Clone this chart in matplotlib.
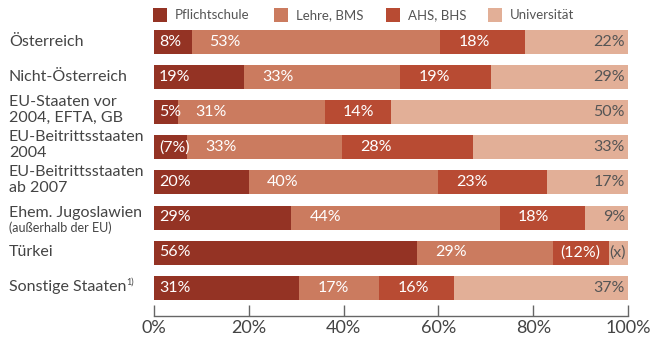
import matplotlib
matplotlib.use("Agg")
import matplotlib.pyplot as plt
from matplotlib.patches import Rectangle
import numpy as np

plt.rcParams['font.family'] = ['Lato', 'DejaVu Sans']

categories = ["Österreich", "Nicht-Österreich", "EU-Staaten vor\n2004, EFTA, GB",
              "EU-Beitrittsstaaten\n2004", "EU-Beitrittsstaaten\nab 2007",
              "Ehem. Jugoslawien", "Türkei", "Sonstige Staaten"]
series = ["Pflichtschule", "Lehre, BMS", "AHS, BHS", "Universität"]
pflicht = [8, 19, 5, 7, 20, 29, 56, 31]
lehre = [53, 33, 31, 33, 40, 44, 29, 17]
ahs = [18, 19, 14, 28, 23, 18, 12, 16]
uni = [22, 29, 50, 33, 17, 9, 4, 37]
label_pflicht = ["8%", "19%", "5%", "(7%)", "20%", "29%", "56%", "31%"]
label_lehre = ["53%", "33%", "31%", "33%", "40%", "44%", "29%", "17%"]
label_ahs = ["18%", "19%", "14%", "28%", "23%", "18%", "(12%)", "16%"]
label_uni = ["22%", "29%", "50%", "33%", "17%", "9%", "(x)", "37%"]
xticks = [0, 20, 40, 60, 80, 100]
xtick_labels = ["0%", "20%", "40%", "60%", "80%", "100%"]

colors = ["#943324", "#CB7B5F", "#B84B33", "#E2AF97"]

W, H = 650, 339
fig = plt.figure(figsize=(W / 100, H / 100), dpi=100)
ax = fig.add_axes([154 / W, 1 - 316 / H, (628 - 154) / W, (316 - 25) / H])

vals = np.array([pflicht, lehre, ahs, uni], dtype=float)
tot = vals.sum(axis=0)
share = vals / tot * 100
y = np.arange(len(categories))
left = np.zeros(len(categories))
labels = [label_pflicht, label_lehre, label_ahs, label_uni]
px = 100 / 474  # data units per pixel
for k in range(4):
    ax.barh(y, share[k], left=left, height=24 / 35, color=colors[k], linewidth=0)
    for i in range(len(categories)):
        lab = labels[k][i]
        if k == 0:
            ax.text(left[i] + 5 * px, y[i], lab, color="white", fontsize=11.5,
                    va="center", ha="left")
        elif k == 3:
            if lab == "(x)":
                ax.text(left[i] + 0.0 * px, y[i], lab, color="#555555", fontsize=11.5,
                        va="center", ha="left")
            else:
                ax.text(100 - 3 * px, y[i], lab, color="#555555", fontsize=11.5,
                        va="center", ha="right")
        else:
            off = 18 if share[k][i] > 13 else 7
            ax.text(left[i] + off * px, y[i], lab, color="white", fontsize=11.5,
                    va="center", ha="left")
    left += share[k]

ax.set_xlim(0, 100)
ax.set_ylim(7 + (316 - 287.5) / 35, -0.5)
ax.set_yticks([])
ax.set_xticks(xticks)
ax.set_xticklabels(xtick_labels, fontsize=13, color="#444444")
for s in ["top", "right", "left"]:
    ax.spines[s].set_visible(False)
ax.spines["bottom"].set_color("#666666")
ax.spines["bottom"].set_linewidth(1.0)
ax.tick_params(axis="x", direction="in", length=8, color="#666666", width=1.0, pad=3)

# category labels
sup_anchor = None
for i, c in enumerate(categories):
    yc = 42.5 + 35 * i
    if c == "Ehem. Jugoslawien":
        fig.text(9 / W, 1 - (yc - 4) / H, c, fontsize=11.5, color="#444444",
                 va="center", ha="left")
        fig.text(9 / W, 1 - (yc + 10) / H, "(außerhalb der EU)", fontsize=9,
                 color="#444444", va="center", ha="left")
    elif c == "Sonstige Staaten":
        sup_anchor = fig.text(9 / W, 1 - (yc - 0.5) / H, c, fontsize=11.5,
                              color="#444444", va="center", ha="left")
    elif "\n" in c:
        fig.text(9 / W, 1 - (yc - 2.5) / H, c, fontsize=11.5, color="#444444",
                 va="center", ha="left", linespacing=1.2)
    else:
        fig.text(9 / W, 1 - (yc - 0.5) / H, c, fontsize=11.5, color="#444444",
                 va="center", ha="left")

fig.canvas.draw()
bb = sup_anchor.get_window_extent(renderer=fig.canvas.get_renderer())
fig.text((bb.x1 - 0.5) / W, (bb.y1 + 2) / H, "1)", fontsize=6.5, color="#444444",
         va="top", ha="left")

# legend
leg_x = [153, 274, 386, 488]
for k in range(4):
    fig.add_artist(Rectangle((leg_x[k] / W, 1 - 22 / H), 14 / W, 14 / H,
                             transform=fig.transFigure, color=colors[k], linewidth=0))
    fig.text((leg_x[k] + 22) / W, 1 - 15 / H, series[k], fontsize=9.5,
             color="#555555", va="center", ha="left")

fig.savefig("out.png", dpi=100)
